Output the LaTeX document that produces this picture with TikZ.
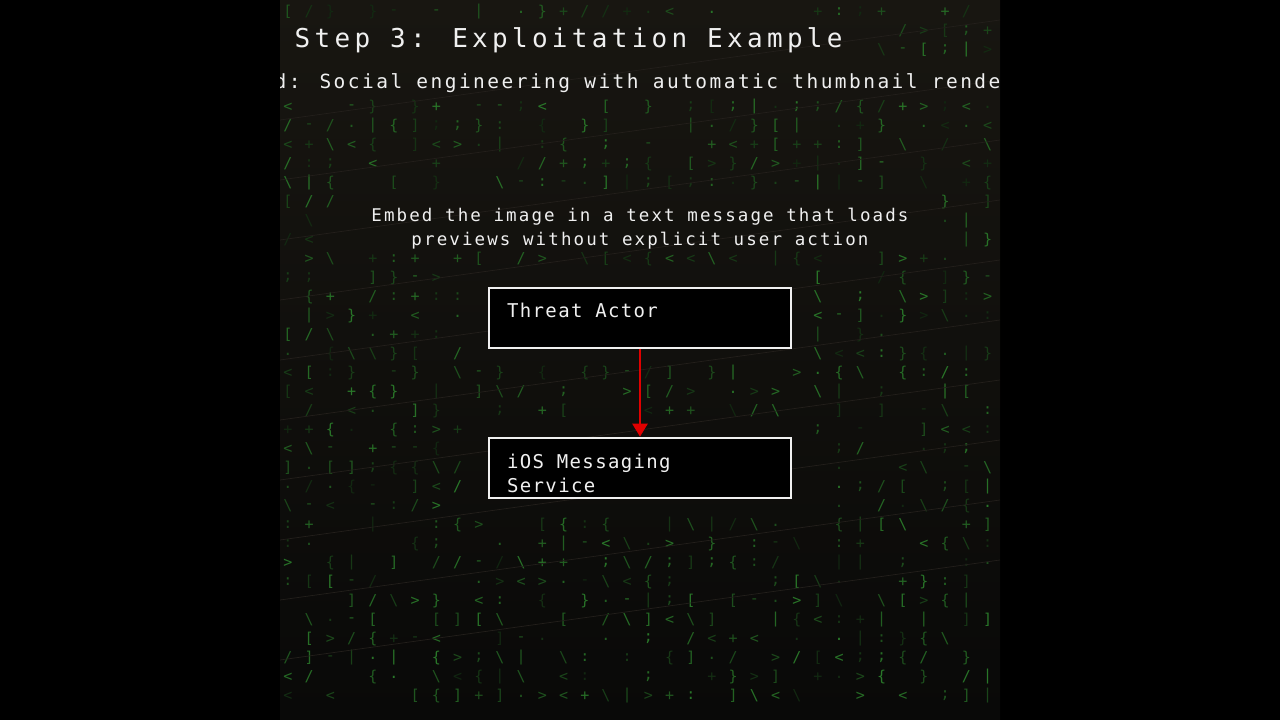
\documentclass[tikz,border=0pt]{standalone}
\usepackage{fontspec}
\usetikzlibrary{arrows.meta}
\newfontfamily\titlefont[LetterSpace=16.5]{DejaVu Sans Mono}
\newfontfamily\subfont[LetterSpace=12.6]{DejaVu Sans Mono}
\newfontfamily\bodyfont[LetterSpace=12]{DejaVu Sans Mono}
\newfontfamily\boxfont[LetterSpace=7]{DejaVu Sans Mono}
\newfontfamily\mxfont{DejaVu Sans Mono}
\definecolor{panelTop}{HTML}{181611}
\definecolor{panelBot}{HTML}{090908}
\definecolor{mxgreen}{HTML}{38AA38}
\definecolor{arrowred}{HTML}{E00000}
\definecolor{txtwhite}{HTML}{F0F0F0}
\definecolor{streak}{HTML}{231F1B}
\newcommand\mxchar[1]{\ifcase#1 \{\or\}\or[\or]\or<\or>\or/\or\textbackslash\or|\or-\or+\or:\or.\or;\fi}
\tikzset{
  mx/.style={inner sep=0, font=\mxfont\fontsize{15}{15}\selectfont},
  stepbox/.style={draw=txtwhite, line width=2.6pt, fill=black, minimum width=302pt, minimum height=60pt, inner sep=0},
  boxtext/.style={inner sep=0, text=txtwhite, font=\boxfont\fontsize{19}{24}\selectfont, align=left},
  flow/.style={draw=arrowred, line width=2.4pt, -{Triangle[length=13pt,width=15pt]}}
}
\begin{document}
\begin{tikzpicture}[x=1pt,y=1pt]
\useasboundingbox (0,0) rectangle (1280,-720);
\fill[black] (0,0) rectangle (1280,-720);
\shade[top color=panelTop, bottom color=panelBot] (280,0) rectangle (1000,-720);
\begin{scope}
\clip (280,0) rectangle (1000,-720);
\pgfmathsetseed{42}
\foreach \i in {0,...,33}{
  \foreach \j in {0,...,36}{
    \pgfmathrandominteger{\k}{0}{19}
    \pgfmathrandominteger{\b}{18}{68}
    \pgfmathsetmacro\mxx{288+21.2*\i}
    \pgfmathsetmacro\mxy{12+19*\j}
    \pgfmathtruncatemacro\mxskip{((\mxx>478) && (\mxx<802) && (\mxy>276) && (\mxy<360)) || ((\mxx>478) && (\mxx<802) && (\mxy>426) && (\mxy<510)) || ((\mxy>16) && (\mxy<60) && (\mxx<862)) || ((\mxy>62) && (\mxy<102)) || ((\mxy>196) && (\mxy<258) && (\mxx>350) && (\mxx<930)) ? 1 : 0}
    \ifnum\k<14
      \ifnum\mxskip=0
        \node[mx, text=mxgreen!\b!panelBot] (m-\i-\j) at (\mxx,-\mxy) {\mxchar{\k}};
      \fi
    \fi
  }
}
\foreach \s in {0,...,9}{
  \draw[streak, line width=0.7pt] (280,{-120-60*\s}) -- (1000,{-20-60*\s});
}
\end{scope}
% title and subtitle
\node[anchor=base west, inner sep=0, text=txtwhite, font=\titlefont\fontsize{26}{30}\selectfont] (title) at (294.5,-47.3) {Step 3: Exploitation Example};
\begin{scope}
\clip (280,0) rectangle (1000,-720);
\node[anchor=base west, inner sep=0, text=txtwhite, font=\subfont\fontsize{19.5}{24}\selectfont] (subtitle) at (203.5,-88) {Method: Social engineering with automatic thumbnail rendering};
\end{scope}
% description
\node[inner sep=0, text=txtwhite, align=center, font=\bodyfont\fontsize{17.5}{24}\selectfont] (desc) at (640,-228.3) {Embed the image in a text message that loads\\previews without explicit user action};
% boxes
\node[stepbox] (ta) at (640,-318) {};
\node[stepbox] (ios) at (640,-468) {};
\node[boxtext, anchor=base west] (tatext) at (507,-317.3) {Threat Actor};
\node[boxtext, anchor=north west] (iostext) at (507,-453.8) {iOS Messaging\\Service};
% connector
\draw[flow] (ta) -- (ios);
\end{tikzpicture}
\end{document}
